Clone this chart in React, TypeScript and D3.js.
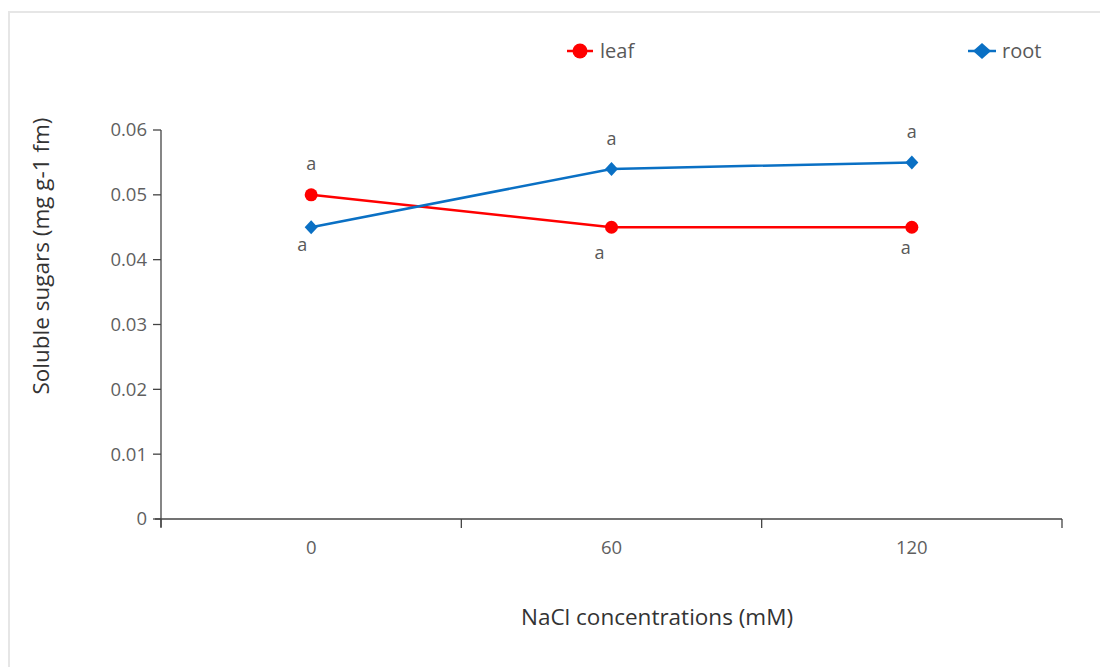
import React from "react";
import * as d3 from "d3";

const categories = ["0", "60", "120"];
const leafValues = [0.05, 0.045, 0.045];
const rootValues = [0.045, 0.054, 0.055];
const yTicks = [0, 0.01, 0.02, 0.03, 0.04, 0.05, 0.06];
const leafLabels = ["a", "a", "a"];
const rootLabels = ["a", "a", "a"];

const W = 1100;
const H = 667;
const FONT = "'Open Sans', 'Noto Sans', sans-serif";
const LEAF = "#ff0000";
const ROOT = "#0a70c4";

export default function App() {
  const x = d3.scaleBand<string>().domain(categories).range([161, 1062]);
  const y = d3.scaleLinear().domain([0, 0.06]).range([519, 130]);
  const cx = (c: string) => (x(c) as number) + x.bandwidth() / 2;
  const line = d3
    .line<number>()
    .x((_, i) => cx(categories[i]))
    .y((d) => y(d));
  const diamond = (px: number, py: number, rx = 8, ry = 8) =>
    `M${px},${py - ry}L${px + rx},${py}L${px},${py + ry}L${px - rx},${py}Z`;
  const xTickPos = [161, ...categories.map((c) => (x(c) as number) + x.bandwidth())];

  const leafOff = [
    [0, -31],
    [-12, 25],
    [-6, 20],
  ];
  const rootOff = [
    [-9, 17],
    [0, -30],
    [0, -31],
  ];

  return (
    <svg
      width={W}
      height={H}
      style={{ position: "absolute", left: 0, top: 0, background: "#fff" }}
      fontFamily={FONT}
    >
      <rect x={9} y={12} width={W} height={H} fill="#fff" stroke="#e6e6e6" strokeWidth={2} />

      {/* y axis */}
      <line x1={161} x2={161} y1={130} y2={527} stroke="#444" strokeWidth={1.3} />
      {yTicks.map((t) => (
        <g key={t}>
          <line x1={153} x2={161} y1={y(t)} y2={y(t)} stroke="#444" strokeWidth={1.3} />
          <text
            x={147}
            y={y(t)}
            dy="0.35em"
            textAnchor="end"
            fontSize={18.5}
            fill="#5f5f5f"
          >
            {t === 0 ? "0" : t.toFixed(2)}
          </text>
        </g>
      ))}

      {/* x axis */}
      <line x1={155} x2={1062} y1={519} y2={519} stroke="#444" strokeWidth={1.3} />
      {xTickPos.map((p, i) => (
        <line key={i} x1={p} x2={p} y1={519} y2={528} stroke="#444" strokeWidth={1.3} />
      ))}
      {categories.map((c) => (
        <text
          key={c}
          x={cx(c)}
          y={548}
          dy="0.35em"
          textAnchor="middle"
          fontSize={18.5}
          fill="#5f5f5f"
        >
          {c}
        </text>
      ))}

      <text x={657} y={617} dy="0.35em" textAnchor="middle" fontSize={22.5} fill="#333">
        NaCl concentrations (mM)
      </text>
      <text
        transform={`translate(41,256) rotate(-90)`}
        dy="0.35em"
        textAnchor="middle"
        fontSize={22.5}
        fill="#333"
      >
        Soluble sugars (mg g-1 fm)
      </text>

      {/* series */}
      <path d={line(leafValues) || ""} fill="none" stroke={LEAF} strokeWidth={2.5} />
      <path d={line(rootValues) || ""} fill="none" stroke={ROOT} strokeWidth={2.5} />
      {leafValues.map((v, i) => (
        <circle key={i} cx={cx(categories[i])} cy={y(v)} r={6.5} fill={LEAF} />
      ))}
      {rootValues.map((v, i) => (
        <path key={i} d={diamond(cx(categories[i]), y(v), 6.5, 7)} fill={ROOT} />
      ))}
      {leafValues.map((v, i) => (
        <text
          key={i}
          x={cx(categories[i]) + leafOff[i][0]}
          y={y(v) + leafOff[i][1]}
          dy="0.35em"
          textAnchor="middle"
          fontSize={18}
          fill="#595959"
        >
          {leafLabels[i]}
        </text>
      ))}
      {rootValues.map((v, i) => (
        <text
          key={i}
          x={cx(categories[i]) + rootOff[i][0]}
          y={y(v) + rootOff[i][1]}
          dy="0.35em"
          textAnchor="middle"
          fontSize={18}
          fill="#595959"
        >
          {rootLabels[i]}
        </text>
      ))}

      {/* legend */}
      <line x1={567} x2={593} y1={51} y2={51} stroke={LEAF} strokeWidth={2.5} />
      <circle cx={580} cy={51} r={7.5} fill={LEAF} />
      <text x={600} y={51} dy="0.35em" fontSize={20} fill="#595959">
        leaf
      </text>
      <line x1={968} x2={996} y1={51} y2={51} stroke={ROOT} strokeWidth={2.5} />
      <path d={diamond(982, 51, 9, 8)} fill={ROOT} />
      <text x={1002} y={51} dy="0.35em" fontSize={20} fill="#595959">
        root
      </text>
    </svg>
  );
}
